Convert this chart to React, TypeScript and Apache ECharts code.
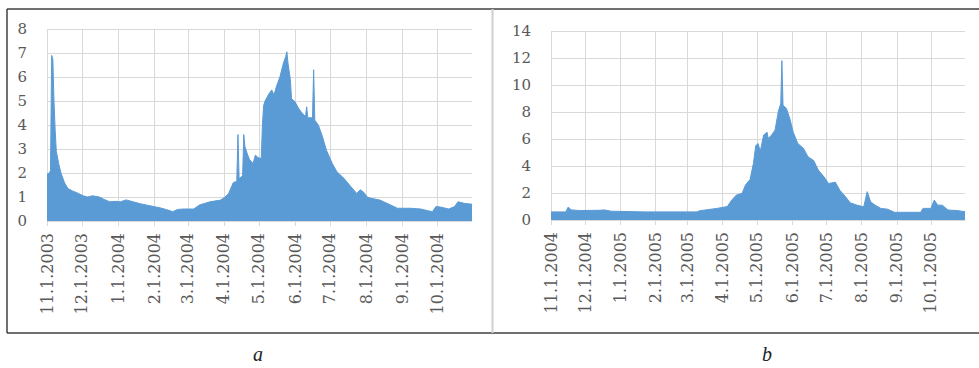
import React, { useEffect, useRef } from "react";
import * as echarts from "echarts";

// ---- data ----
const leftDates = [
  "11.1.2003", "11.3.2003", "11.4.2003", "11.5.2003", "11.6.2003", "11.7.2003", "11.8.2003", "11.9.2003",
  "11.11.2003", "11.13.2003", "11.16.2003", "11.19.2003", "11.23.2003", "11.28.2003", "12.2.2003", "12.6.2003",
  "12.10.2003", "12.16.2003", "12.20.2003", "12.25.2003", "12.30.2003", "1.3.2004", "1.8.2004", "1.14.2004",
  "1.20.2004", "1.27.2004", "2.6.2004", "2.12.2004", "2.17.2004", "2.21.2004", "2.26.2004", "3.6.2004",
  "3.11.2004", "3.20.2004", "3.29.2004", "4.2.2004", "4.5.2004", "4.9.2004", "4.12.2004", "4.13.2004",
  "4.14.2004", "4.16.2004", "4.17.2004", "4.18.2004", "4.19.2004", "4.21.2004", "4.23.2004", "4.26.2004",
  "4.28.2004", "4.30.2004", "5.3.2004", "5.4.2004", "5.5.2004", "5.6.2004", "5.9.2004", "5.12.2004",
  "5.14.2004", "5.16.2004", "5.19.2004", "5.22.2004", "5.24.2004", "5.25.2004", "5.26.2004", "5.28.2004",
  "5.29.2004", "6.1.2004", "6.4.2004", "6.7.2004", "6.10.2004", "6.11.2004", "6.12.2004", "6.16.2004",
  "6.17.2004", "6.18.2004", "6.21.2004", "6.24.2004", "6.28.2004", "7.3.2004", "7.7.2004", "7.13.2004",
  "7.19.2004", "7.24.2004", "7.27.2004", "7.30.2004", "8.2.2004", "8.5.2004", "8.13.2004", "8.22.2004",
  "8.28.2004", "9.8.2004", "9.17.2004", "9.23.2004", "9.27.2004", "9.30.2004", "10.4.2004", "10.11.2004",
  "10.16.2004", "10.19.2004", "10.25.2004", "10.31.2004",
];
const leftValues = [
  1.95, 2.0, 2.1, 6.9, 6.75, 5.0, 3.8, 2.9,
  2.4, 2.0, 1.6, 1.35, 1.25, 1.15, 1.05, 1.0,
  1.05, 1.0, 0.9, 0.8, 0.82, 0.8, 0.88, 0.8,
  0.72, 0.65, 0.55, 0.47, 0.39, 0.48, 0.5, 0.5,
  0.67, 0.8, 0.87, 1.0, 1.15, 1.6, 1.65, 3.6,
  1.75, 1.85, 1.9, 3.6, 3.1, 2.8, 2.55, 2.4,
  2.75, 2.65, 2.6, 4.0, 4.8, 4.97, 5.25, 5.46,
  5.25, 5.6, 6.0, 6.57, 6.85, 7.05, 6.57, 5.9,
  5.1, 4.97, 4.7, 4.5, 4.35, 4.76, 4.3, 4.3,
  6.3, 4.2, 4.0, 3.6, 2.95, 2.4, 2.05, 1.78,
  1.43, 1.15, 1.3, 1.2, 1.0, 0.95, 0.87, 0.67,
  0.53, 0.53, 0.5, 0.43, 0.39, 0.6, 0.58, 0.5,
  0.6, 0.8, 0.73, 0.7,
];

const rightDates = [
  "11.1.2004", "11.14.2004", "11.16.2004", "11.19.2004", "11.26.2004", "12.14.2004", "12.18.2004", "12.24.2004",
  "1.23.2005", "3.9.2005", "3.12.2005", "3.27.2005", "4.5.2005", "4.9.2005", "4.13.2005", "4.18.2005",
  "4.21.2005", "4.25.2005", "4.28.2005", "4.30.2005", "5.2.2005", "5.4.2005", "5.7.2005", "5.10.2005",
  "5.11.2005", "5.14.2005", "5.17.2005", "5.20.2005", "5.22.2005", "5.23.2005", "5.24.2005", "5.27.2005",
  "5.30.2005", "6.2.2005", "6.6.2005", "6.11.2005", "6.15.2005", "6.20.2005", "6.24.2005", "6.29.2005",
  "7.3.2005", "7.9.2005", "7.13.2005", "7.18.2005", "7.22.2005", "7.28.2005", "8.3.2005", "8.6.2005",
  "8.9.2005", "8.13.2005", "8.18.2005", "8.24.2005", "8.30.2005", "9.22.2005", "9.24.2005", "10.1.2005",
  "10.4.2005", "10.7.2005", "10.11.2005", "10.16.2005", "10.24.2005", "10.31.2005",
];
const rightValues = [
  0.6, 0.6, 0.95, 0.75, 0.7, 0.72, 0.75, 0.65,
  0.6, 0.6, 0.69, 0.86, 1.0, 1.48, 1.85, 1.97,
  2.6, 3.0, 4.2, 5.5, 5.67, 5.1, 6.3, 6.5,
  6.04, 6.3, 6.66, 8.1, 8.6, 11.8, 8.5, 8.26,
  7.5, 6.5, 5.67, 5.3, 4.68, 4.4, 3.7, 3.2,
  2.7, 2.8, 2.2, 1.72, 1.28, 1.1, 0.98, 2.1,
  1.35, 1.1, 0.86, 0.8, 0.57, 0.57, 0.86, 0.86,
  1.48, 1.1, 1.1, 0.74, 0.7, 0.62,
];

const leftRange = ["2003-11-01", "2004-10-31"];
const rightRange = ["2004-11-01", "2005-10-31"];
const leftYMax = 8;
const leftYStep = 1;
const rightYMax = 14;
const rightYStep = 2;
const captions = ["a", "b"];

// ---- helpers ----
function dayCategories(range: string[]): string[] {
  const out: string[] = [];
  const [s, e] = range.map((r) => {
    const [y, m, d] = r.split("-").map(Number);
    return Date.UTC(y, m - 1, d);
  });
  for (let t = s; t <= e; t += 86400000) {
    const dt = new Date(t);
    out.push(`${dt.getUTCMonth() + 1}.${dt.getUTCDate()}.${dt.getUTCFullYear()}`);
  }
  return out;
}

const isMonthStart = (_i: number, v: string) => v.split(".")[1] === "1";

const BLUE = "#5b9bd5";
const GRID = "#d9d9d9";
const LABEL = "#595959";
const FONT = "DejaVu Serif";

function xAxisFor(gridIndex: number, cats: string[]) {
  return {
    type: "category",
    gridIndex,
    data: cats,
    boundaryGap: false,
    axisLine: { show: true, lineStyle: { color: GRID, width: 1 } },
    axisTick: { show: true, interval: isMonthStart, length: 5, lineStyle: { color: GRID } },
    axisLabel: {
      interval: isMonthStart,
      rotate: 90,
      margin: 12,
      fontFamily: FONT,
      fontSize: 16,
      color: LABEL,
    },
    splitLine: { show: true, interval: isMonthStart, lineStyle: { color: GRID, width: 1 } },
  };
}

function yAxisFor(gridIndex: number, max: number, step: number) {
  return {
    type: "value",
    gridIndex,
    min: 0,
    max,
    interval: step,
    axisLine: { show: false },
    axisTick: { show: false },
    axisLabel: { margin: 20, fontFamily: FONT, fontSize: 15, color: LABEL },
    splitLine: { show: true, lineStyle: { color: GRID, width: 1 } },
  };
}

function seriesFor(idx: number, cats: string[], dates: string[], values: number[]) {
  return {
    type: "line",
    xAxisIndex: idx,
    yAxisIndex: idx,
    data: dates.map((d, i) => [cats.indexOf(d), values[i]]),
    symbol: "none",
    lineStyle: { color: BLUE, width: 1 },
    areaStyle: { color: BLUE, opacity: 1 },
  };
}

export default function App() {
  const ref = useRef<HTMLDivElement>(null);
  useEffect(() => {
    if (!ref.current) return;
    const chart = echarts.init(ref.current, null, { renderer: "svg" });
    const leftCats = dayCategories(leftRange);
    const rightCats = dayCategories(rightRange);
    chart.setOption({
      animation: false,
      backgroundColor: "#ffffff",
      grid: [
        { left: 47, top: 29, width: 425, height: 192 },
        { left: 551, top: 31, width: 414, height: 189 },
      ],
      xAxis: [xAxisFor(0, leftCats), xAxisFor(1, rightCats)],
      yAxis: [yAxisFor(0, leftYMax, leftYStep), yAxisFor(1, rightYMax, rightYStep)],
      series: [
        seriesFor(0, leftCats, leftDates, leftValues),
        seriesFor(1, rightCats, rightDates, rightValues),
      ],
      graphic: [
        { type: "line", shape: { x1: 7, y1: 9, x2: 979, y2: 9 }, style: { stroke: "#404040", lineWidth: 1.5 } },
        { type: "line", shape: { x1: 7, y1: 333, x2: 979, y2: 333 }, style: { stroke: "#404040", lineWidth: 1.5 } },
        { type: "line", shape: { x1: 7, y1: 9, x2: 7, y2: 333 }, style: { stroke: "#404040", lineWidth: 1.5 } },
        { type: "line", shape: { x1: 492.5, y1: 9, x2: 492.5, y2: 333 }, style: { stroke: "#cfcfcf", lineWidth: 2 } },
        {
          type: "text",
          x: 258,
          y: 354,
          style: { text: captions[0], font: "italic 20px 'Liberation Serif'", fill: "#222", align: "center", verticalAlign: "middle" },
        },
        {
          type: "text",
          x: 767,
          y: 354,
          style: { text: captions[1], font: "italic 20px 'Liberation Serif'", fill: "#222", align: "center", verticalAlign: "middle" },
        },
      ],
    });
    return () => chart.dispose();
  }, []);
  return (
    <div
      ref={ref}
      style={{ position: "absolute", left: 0, top: 0, width: 979, height: 368 }}
    />
  );
}
